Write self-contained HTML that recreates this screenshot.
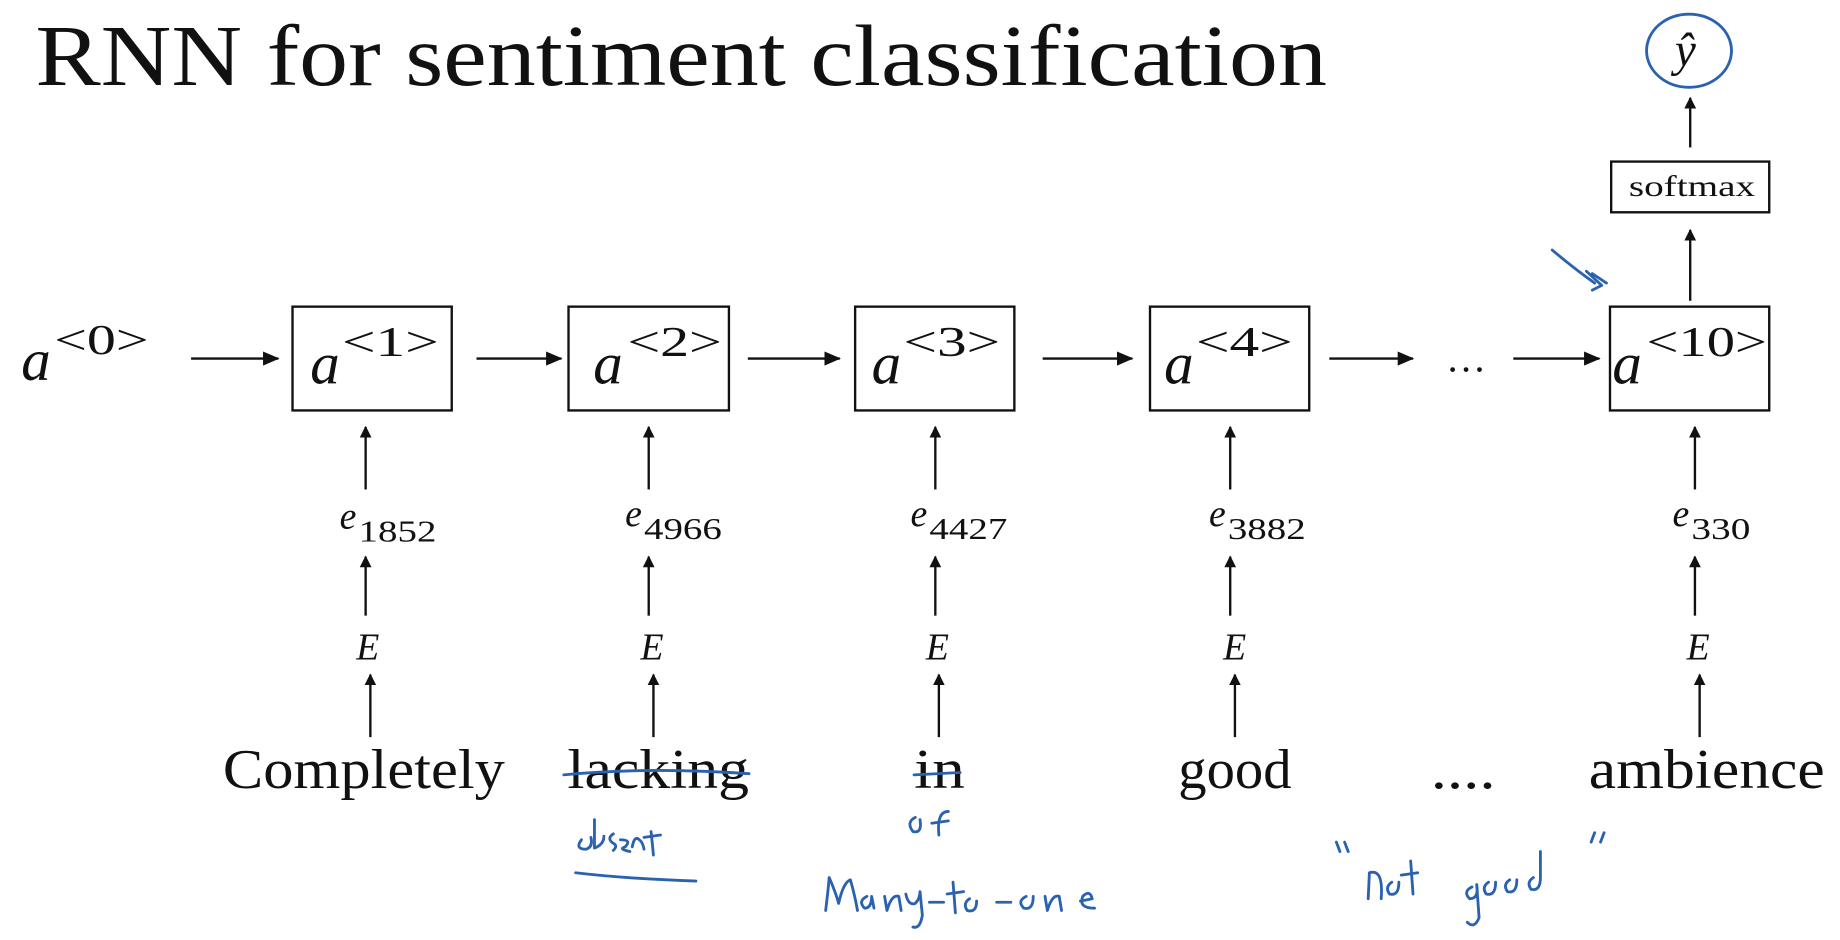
<!DOCTYPE html>
<html><head><meta charset="utf-8"><style>
html,body{margin:0;padding:0;background:#fff;width:1840px;height:940px;overflow:hidden}
svg{display:block}
.s{font-family:"Liberation Serif",serif;fill:#111}
.b{fill:none;stroke:#2a62b0;stroke-width:2.4;stroke-linecap:round;stroke-linejoin:round}
</style></head><body>
<svg width="1840" height="940" viewBox="0 0 1560 797" preserveAspectRatio="none" xmlns="http://www.w3.org/2000/svg">
<defs><marker id="ah" markerWidth="10" markerHeight="10" refX="9" refY="5" orient="auto" markerUnits="userSpaceOnUse"><path d="M0,0 L10,5 L0,10 z" fill="#111"/></marker>
<marker id="ah2" markerWidth="14" markerHeight="14" refX="13" refY="7" orient="auto" markerUnits="userSpaceOnUse"><path d="M0,1 L14,7 L0,13 z" fill="#111"/></marker></defs>
<text class="s" x="30" y="72" font-size="74" textLength="1095" lengthAdjust="spacingAndGlyphs">RNN for sentiment classification</text>
<g fill="none" stroke="#111" stroke-width="2">
<rect x="248" y="260" width="135" height="88"/><rect x="482" y="260" width="136" height="88"/>
<rect x="725" y="260" width="135" height="88"/><rect x="975" y="260" width="135" height="88"/>
<rect x="1365" y="260" width="135" height="88"/><rect x="1366" y="137" width="134" height="43"/>
</g>
<g stroke="#111" stroke-width="2" marker-end="url(#ah2)">
<line x1="162" y1="304" x2="236" y2="304"/><line x1="404" y1="304" x2="476" y2="304"/>
<line x1="634" y1="304" x2="712" y2="304"/><line x1="884" y1="304" x2="960" y2="304"/>
<line x1="1127" y1="304" x2="1198" y2="304"/><line x1="1283" y1="304" x2="1356" y2="304"/>
</g>
<g stroke="#111" stroke-width="2" marker-end="url(#ah)">
<line x1="310" y1="415" x2="310" y2="362"/><line x1="550" y1="415" x2="550" y2="362"/><line x1="793" y1="415" x2="793" y2="362"/><line x1="1043" y1="415" x2="1043" y2="362"/><line x1="1437" y1="415" x2="1437" y2="362"/>
<line x1="310" y1="522" x2="310" y2="472"/><line x1="550" y1="522" x2="550" y2="472"/><line x1="793" y1="522" x2="793" y2="472"/><line x1="1043" y1="522" x2="1043" y2="472"/><line x1="1437" y1="522" x2="1437" y2="472"/>
<line x1="314" y1="625" x2="314" y2="572"/><line x1="554" y1="625" x2="554" y2="572"/><line x1="796" y1="625" x2="796" y2="572"/><line x1="1047" y1="625" x2="1047" y2="572"/><line x1="1441" y1="625" x2="1441" y2="572"/>
<line x1="1433" y1="255" x2="1433" y2="195"/><line x1="1433" y1="125" x2="1433" y2="83"/>
</g>
<g class="s" font-style="italic">
<text x="18" y="322" font-size="50">a</text><text x="46" y="300" font-size="36" font-style="normal" textLength="80" lengthAdjust="spacingAndGlyphs">&lt;0&gt;</text>
<text x="263" y="325" font-size="50">a</text><text x="290" y="302" font-size="36" font-style="normal" textLength="82" lengthAdjust="spacingAndGlyphs">&lt;1&gt;</text>
<text x="503" y="325" font-size="50">a</text><text x="532" y="302" font-size="36" font-style="normal" textLength="80" lengthAdjust="spacingAndGlyphs">&lt;2&gt;</text>
<text x="739" y="325" font-size="50">a</text><text x="766" y="302" font-size="36" font-style="normal" textLength="82" lengthAdjust="spacingAndGlyphs">&lt;3&gt;</text>
<text x="987" y="325" font-size="50">a</text><text x="1014" y="302" font-size="36" font-style="normal" textLength="82" lengthAdjust="spacingAndGlyphs">&lt;4&gt;</text>
<text x="1367" y="325" font-size="50">a</text><text x="1396" y="302" font-size="36" font-style="normal" textLength="102" lengthAdjust="spacingAndGlyphs">&lt;10&gt;</text>
</g>
<text class="s" x="1226" y="315" font-size="34">…</text>
<g class="s" font-size="32">
<text x="288" y="448" font-style="italic">e</text><text x="304" y="459" font-size="26" textLength="66" lengthAdjust="spacingAndGlyphs">1852</text>
<text x="530" y="446" font-style="italic">e</text><text x="546" y="457" font-size="26" textLength="66" lengthAdjust="spacingAndGlyphs">4966</text>
<text x="772" y="446" font-style="italic">e</text><text x="788" y="457" font-size="26" textLength="66" lengthAdjust="spacingAndGlyphs">4427</text>
<text x="1025" y="446" font-style="italic">e</text><text x="1041" y="457" font-size="26" textLength="66" lengthAdjust="spacingAndGlyphs">3882</text>
<text x="1418" y="446" font-style="italic">e</text><text x="1434" y="457" font-size="26" textLength="50" lengthAdjust="spacingAndGlyphs">330</text>
<g font-style="italic"><text x="302" y="559">E</text><text x="543" y="559">E</text><text x="785" y="559">E</text><text x="1037" y="559">E</text><text x="1430" y="559">E</text></g>
</g>
<text class="s" x="1381" y="166" font-size="25" textLength="107" lengthAdjust="spacingAndGlyphs">softmax</text>
<text class="s" x="1420" y="56" font-size="40" font-style="italic">ŷ</text>
<ellipse class="b" cx="1432" cy="43" rx="36" ry="31"/>
<g class="s" font-size="48" lengthAdjust="spacingAndGlyphs">
<text x="189" y="668" textLength="239" lengthAdjust="spacingAndGlyphs">Completely</text><text x="481" y="668" textLength="154" lengthAdjust="spacingAndGlyphs">lacking</text><text x="775" y="668" textLength="43" lengthAdjust="spacingAndGlyphs">in</text>
<text x="999" y="668" textLength="96" lengthAdjust="spacingAndGlyphs">good</text><text x="1213" y="668" textLength="55" lengthAdjust="spacingAndGlyphs">....</text><text x="1347" y="668" textLength="200" lengthAdjust="spacingAndGlyphs">ambience</text>
</g>
<g class="b">
<path d="M478,657 Q550,650 635,656"/><path d="M775,657 L814,655"/>
<path d="M1316,212 Q1335,228 1352,240 M1345,230 L1358,242 L1350,246 M1350,232 L1362,240"/>
<path d="M493,712 q-6,8 4,8 q6,-2 4,-10 M504,695 l0,24 q8,-3 8,-10 M520,707 q-6,4 0,8 q4,2 0,6 M526,712 q10,0 4,6 q-6,2 4,4 M536,718 q2,-10 6,-6 q3,2 4,8 M552,705 l2,20 M546,710 l14,-2"/>
<path d="M488,740 Q530,745 590,747"/>
<path d="M776,693 q-8,4 -2,12 q8,2 6,-10 M796,708 q-2,-20 8,-20 M790,698 l14,-2"/>
<path d="M700,772 q2,-16 3,-28 q6,14 8,22 q4,-18 10,-20 q4,14 6,26 M735,760 q-8,4 -2,10 q6,0 6,-10 l2,10 M750,760 l2,12 q4,-14 10,-12 l2,12 M768,758 q2,10 8,8 q4,-4 4,-10 l2,20 q-2,12 -8,10 M788,765 l12,0 M808,748 l2,26 M803,758 l14,-2 M822,762 q-6,4 -2,10 q8,2 8,-8 M845,765 l12,0 M870,760 q-8,4 -2,10 q8,2 8,-10 M886,760 l2,12 q4,-14 10,-12 l2,12 M916,764 l10,-2 q-2,-8 -8,-2 q-4,10 10,10"/>
<path d="M1133,714 l3,8 M1140,714 l3,8 M1160,762 l1,-22 q12,-4 10,22 M1180,748 q-6,4 -2,10 q8,2 8,-10 M1196,730 l2,28 M1188,742 l14,-2 M1248,752 q-8,4 -2,10 q8,0 6,-12 l2,28 q-4,10 -10,4 M1262,748 q-6,4 -2,10 q8,2 8,-10 M1280,746 q-6,4 -2,10 q8,2 8,-10 M1300,744 q-6,4 -2,10 q8,2 8,-10 l0,-22 M1352,706 l-3,8 M1360,706 l-3,8"/>
</g>
</svg>
</body></html>
